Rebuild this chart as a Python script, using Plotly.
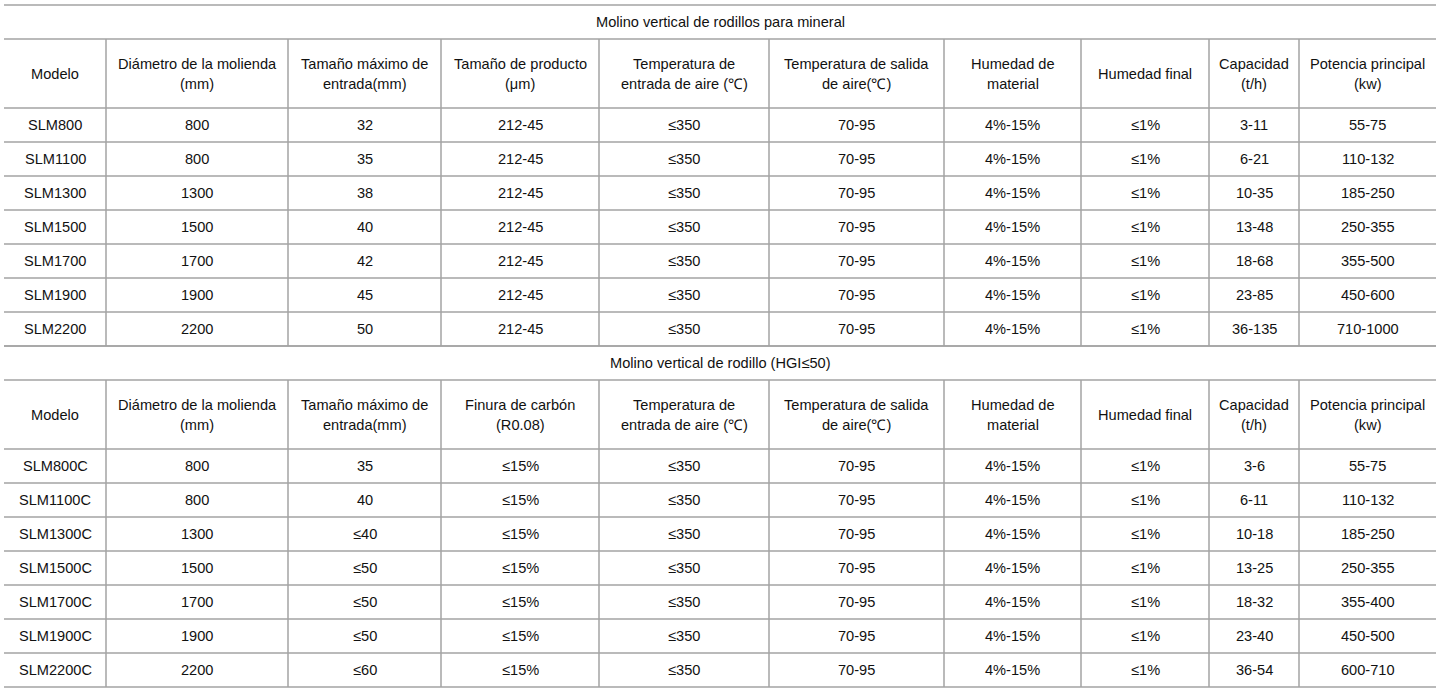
import plotly.graph_objects as go

# ---------------------------------------------------------------------------
# data
# ---------------------------------------------------------------------------
title_1 = "Molino vertical de rodillos para mineral"
title_2 = "Molino vertical de rodillo (HGI≤50)"

header_1 = ["Modelo", "Diámetro de la molienda|(mm)", "Tamaño máximo de|entrada(mm)",
            "Tamaño de producto|(μm)", "Temperatura de|entrada de aire (℃)",
            "Temperatura de salida|de aire(℃)", "Humedad de|material", "Humedad final",
            "Capacidad|(t/h)", "Potencia principal|(kw)"]
header_2 = ["Modelo", "Diámetro de la molienda|(mm)", "Tamaño máximo de|entrada(mm)",
            "Finura de carbón|(R0.08)", "Temperatura de|entrada de aire (℃)",
            "Temperatura de salida|de aire(℃)", "Humedad de|material", "Humedad final",
            "Capacidad|(t/h)", "Potencia principal|(kw)"]

modelo_1 = ["SLM800", "SLM1100", "SLM1300", "SLM1500", "SLM1700", "SLM1900", "SLM2200"]
diametro_1 = ["800", "800", "1300", "1500", "1700", "1900", "2200"]
entrada_1 = ["32", "35", "38", "40", "42", "45", "50"]
producto_1 = ["212-45"] * 7
temp_in_1 = ["≤350"] * 7
temp_out_1 = ["70-95"] * 7
humedad_1 = ["4%-15%"] * 7
hum_final_1 = ["≤1%"] * 7
capacidad_1 = ["3-11", "6-21", "10-35", "13-48", "18-68", "23-85", "36-135"]
potencia_1 = ["55-75", "110-132", "185-250", "250-355", "355-500", "450-600", "710-1000"]

modelo_2 = ["SLM800C", "SLM1100C", "SLM1300C", "SLM1500C", "SLM1700C", "SLM1900C", "SLM2200C"]
diametro_2 = ["800", "800", "1300", "1500", "1700", "1900", "2200"]
entrada_2 = ["35", "40", "≤40", "≤50", "≤50", "≤50", "≤60"]
finura_2 = ["≤15%"] * 7
temp_in_2 = ["≤350"] * 7
temp_out_2 = ["70-95"] * 7
humedad_2 = ["4%-15%"] * 7
hum_final_2 = ["≤1%"] * 7
capacidad_2 = ["3-6", "6-11", "10-18", "13-25", "18-32", "23-40", "36-54"]
potencia_2 = ["55-75", "110-132", "185-250", "250-355", "355-400", "450-500", "600-710"]

# ---------------------------------------------------------------------------
# layout settings (pixel units)
# ---------------------------------------------------------------------------
col_edges = [4, 106, 288, 441, 599, 769, 944, 1081, 1209, 1299, 1436]
line_col = "#a3a3a3"
text_col = "#111111"
font_fam = "Liberation Sans, Arial, sans-serif"
font_size = 14.6

shapes = []
annotations = []


def hline(y):
    shapes.append(dict(type="line", xref="x", yref="y", x0=col_edges[0], x1=col_edges[-1],
                       y0=y, y1=y, line=dict(color=line_col, width=1.5)))


def vline(x, y0, y1):
    shapes.append(dict(type="line", xref="x", yref="y", x0=x, x1=x,
                       y0=y0, y1=y1, line=dict(color=line_col, width=1.5)))


def text(x, y, s):
    annotations.append(dict(x=x, y=y, xref="x", yref="y", text=s, showarrow=False,
                            xanchor="center", yanchor="middle",
                            font=dict(family=font_fam, size=font_size, color=text_col)))


def draw_table(top, title, header, columns, title_h=34, head_h=69, row_h=34):
    # title row
    hline(top)
    text((col_edges[0] + col_edges[-1]) / 2, top + title_h / 2, title)
    y_head = top + title_h
    hline(y_head)
    y_body = y_head + head_h
    n_rows = len(columns[0])
    y_end = y_body + n_rows * row_h
    for x in col_edges[1:-1]:
        vline(x, y_head, y_end)
    # header
    for i, h in enumerate(header):
        cx = (col_edges[i] + col_edges[i + 1]) / 2
        parts = h.split("|")
        if len(parts) == 1:
            text(cx, y_head + head_h / 2, parts[0])
        else:
            text(cx, y_head + head_h / 2 - 10, parts[0])
            text(cx, y_head + head_h / 2 + 10, parts[1])
    hline(y_body)
    # body
    for r in range(n_rows):
        cy = y_body + r * row_h + row_h / 2
        for i, col in enumerate(columns):
            cx = (col_edges[i] + col_edges[i + 1]) / 2
            text(cx, cy, col[r])
        hline(y_body + (r + 1) * row_h)
    return y_end


end_1 = draw_table(5, title_1, header_1,
                   [modelo_1, diametro_1, entrada_1, producto_1, temp_in_1, temp_out_1,
                    humedad_1, hum_final_1, capacidad_1, potencia_1])
draw_table(end_1, title_2, header_2,
           [modelo_2, diametro_2, entrada_2, finura_2, temp_in_2, temp_out_2,
            humedad_2, hum_final_2, capacidad_2, potencia_2])

fig = go.Figure()
fig.update_layout(
    width=1440, height=696,
    margin=dict(l=0, r=0, t=0, b=0),
    paper_bgcolor="white", plot_bgcolor="white",
    xaxis=dict(range=[0, 1440], visible=False, fixedrange=True),
    yaxis=dict(range=[696, 0], visible=False, fixedrange=True),
    shapes=shapes, annotations=annotations,
    showlegend=False,
)

# the page body has a default 8px margin, drop it so the table sits at 0,0
fig.write_html("out.html", config={"displayModeBar": False},
               post_script="document.body.style.margin='0';document.body.style.overflow='hidden';")
